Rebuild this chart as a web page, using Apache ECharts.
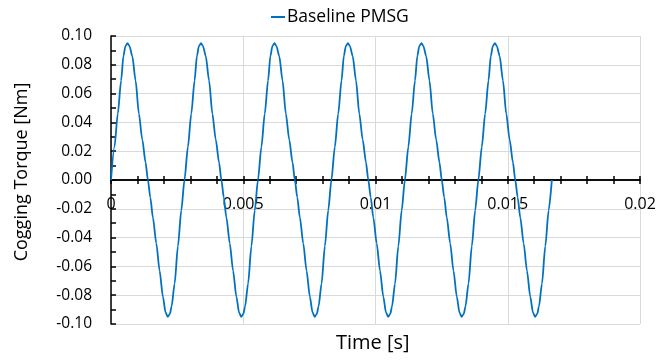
<!DOCTYPE html>
<html>
<head>
<meta charset="utf-8">
<script src="https://cdn.jsdelivr.net/npm/echarts@6/dist/echarts.min.js"></script>
<style>html,body{margin:0;padding:0;background:#fff}#c{width:670px;height:360px}</style>
</head>
<body>
<div id="c"></div>
<script>
var seriesName = 'Baseline PMSG';
var xTitle = 'Time [s]';
var yTitle = 'Cogging Torque [Nm]';
var xTicks = [0, 0.005, 0.01, 0.015, 0.02];
var yTicks = [-0.10, -0.08, -0.06, -0.04, -0.02, 0.00, 0.02, 0.04, 0.06, 0.08, 0.10];

var timeS = [
0.000000, 0.000130, 0.000257, 0.000382, 0.000470, 0.000545, 0.000625, 0.000700, 0.000805, 0.000930, 0.001055, 0.001183, 0.001308, 0.001395, 0.001486, 0.001584, 0.001713, 0.001837, 0.001962, 0.002064, 0.002145, 0.002225, 0.002290, 0.002405, 0.002530, 0.002658,
0.002778, 0.002908, 0.003035, 0.003160, 0.003248, 0.003323, 0.003403, 0.003478, 0.003583, 0.003708, 0.003833, 0.003961, 0.004086, 0.004173, 0.004264, 0.004362, 0.004491, 0.004615, 0.004740, 0.004842, 0.004923, 0.005003, 0.005068, 0.005183, 0.005308, 0.005436,
0.005556, 0.005686, 0.005813, 0.005938, 0.006026, 0.006101, 0.006181, 0.006256, 0.006361, 0.006486, 0.006611, 0.006739, 0.006864, 0.006951, 0.007042, 0.007140, 0.007269, 0.007393, 0.007518, 0.007620, 0.007701, 0.007781, 0.007846, 0.007961, 0.008086, 0.008214,
0.008333, 0.008463, 0.008590, 0.008715, 0.008803, 0.008878, 0.008958, 0.009033, 0.009138, 0.009263, 0.009388, 0.009516, 0.009641, 0.009728, 0.009819, 0.009917, 0.010046, 0.010170, 0.010295, 0.010397, 0.010478, 0.010558, 0.010623, 0.010738, 0.010863, 0.010991,
0.011111, 0.011241, 0.011368, 0.011493, 0.011581, 0.011656, 0.011736, 0.011811, 0.011916, 0.012041, 0.012166, 0.012294, 0.012419, 0.012506, 0.012597, 0.012695, 0.012824, 0.012948, 0.013073, 0.013175, 0.013256, 0.013336, 0.013401, 0.013516, 0.013641, 0.013769,
0.013889, 0.014019, 0.014146, 0.014271, 0.014359, 0.014434, 0.014514, 0.014589, 0.014694, 0.014819, 0.014944, 0.015072, 0.015197, 0.015284, 0.015375, 0.015473, 0.015602, 0.015726, 0.015851, 0.015953, 0.016034, 0.016114, 0.016179, 0.016294, 0.016419, 0.016547,
0.016667
];

var torqueNm = [
0.000, 0.023, 0.046, 0.069, 0.086, 0.093, 0.095, 0.093, 0.086, 0.069, 0.046, 0.028, 0.012, 0.000, -0.012, -0.026, -0.044, -0.063, -0.081, -0.092, -0.095, -0.093, -0.088, -0.072, -0.046, -0.021,
0.000, 0.023, 0.046, 0.069, 0.086, 0.093, 0.095, 0.093, 0.086, 0.069, 0.046, 0.028, 0.012, 0.000, -0.012, -0.026, -0.044, -0.063, -0.081, -0.092, -0.095, -0.093, -0.088, -0.072, -0.046, -0.021,
0.000, 0.023, 0.046, 0.069, 0.086, 0.093, 0.095, 0.093, 0.086, 0.069, 0.046, 0.028, 0.012, 0.000, -0.012, -0.026, -0.044, -0.063, -0.081, -0.092, -0.095, -0.093, -0.088, -0.072, -0.046, -0.021,
0.000, 0.023, 0.046, 0.069, 0.086, 0.093, 0.095, 0.093, 0.086, 0.069, 0.046, 0.028, 0.012, 0.000, -0.012, -0.026, -0.044, -0.063, -0.081, -0.092, -0.095, -0.093, -0.088, -0.072, -0.046, -0.021,
0.000, 0.023, 0.046, 0.069, 0.086, 0.093, 0.095, 0.093, 0.086, 0.069, 0.046, 0.028, 0.012, 0.000, -0.012, -0.026, -0.044, -0.063, -0.081, -0.092, -0.095, -0.093, -0.088, -0.072, -0.046, -0.021,
0.000, 0.023, 0.046, 0.069, 0.086, 0.093, 0.095, 0.093, 0.086, 0.069, 0.046, 0.028, 0.012, 0.000, -0.012, -0.026, -0.044, -0.063, -0.081, -0.092, -0.095, -0.093, -0.088, -0.072, -0.046, -0.021,
0.000
];

var points = timeS.map(function (t, i) { return [t, torqueNm[i]]; });
var FONT = 'Open Sans';

var chart = echarts.init(document.getElementById('c'), null, {renderer: 'canvas'});
var xBase = {
  type: 'value', min: xTicks[0], max: xTicks[xTicks.length - 1], interval: xTicks[1] - xTicks[0],
  position: 'bottom', offset: -144,
  axisLine: {onZero: false, lineStyle: {color: '#000', width: 1.5}}
};
chart.setOption({
  animation: false,
  textStyle: {fontFamily: FONT},
  grid: {left: 111, right: 30, top: 36, bottom: 36, containLabel: false},
  title: {
    text: xTitle, left: 331, top: 328,
    textStyle: {fontFamily: FONT, fontSize: 20, fontWeight: 'normal', color: '#000'}
  },
  graphic: [{
    type: 'text', x: 22, y: 172, rotation: Math.PI / 2,
    style: {text: yTitle, fontFamily: FONT, fontSize: 18, fill: '#000', align: 'center', verticalAlign: 'middle'}
  }],
  legend: {
    data: [seriesName], left: 265, top: 3, itemWidth: 14, itemHeight: 2, itemGap: 0,
    textStyle: {fontFamily: FONT, fontSize: 17.5, color: '#000', padding: [0, 0, 0, -3]}
  },
  xAxis: [
    Object.assign({}, xBase, {
      axisTick: {show: true, inside: false, length: 4, lineStyle: {color: '#000', width: 1.5}},
      minorTick: {show: true, splitNumber: 5, length: 4, lineStyle: {color: '#000', width: 1.5}},
      axisLabel: {
        fontFamily: FONT, fontSize: 16, color: '#000', margin: 16,
        formatter: function (v) { return v === 0 ? '0' : String(+v.toFixed(3)); }
      },
      splitLine: {show: true, lineStyle: {color: '#d9d9d9', width: 1}}
    }),
    Object.assign({}, xBase, {
      axisTick: {show: true, inside: true, length: 4, lineStyle: {color: '#000', width: 1.5}},
      minorTick: {show: true, splitNumber: 5, length: 4, lineStyle: {color: '#000', width: 1.5}},
      axisLabel: {show: false},
      splitLine: {show: false}
    })
  ],
  yAxis: {
    type: 'value', min: yTicks[0], max: yTicks[yTicks.length - 1], interval: 0.02,
    axisLine: {show: true, onZero: false, lineStyle: {color: '#000', width: 1.5}},
    axisTick: {show: true, inside: true, length: 5, lineStyle: {color: '#000', width: 1.5}},
    minorTick: {show: true, splitNumber: 2, length: 5, lineStyle: {color: '#000', width: 1.5}},
    axisLabel: {
      fontFamily: FONT, fontSize: 15.5, color: '#000', margin: 19,
      formatter: function (v) { return v.toFixed(2); }
    },
    splitLine: {show: true, lineStyle: {color: '#d9d9d9', width: 1}}
  },
  series: [{
    name: seriesName, type: 'line', data: points, xAxisIndex: 0,
    symbol: 'none', smooth: 0.25, smoothMonotone: 'x',
    lineStyle: {color: '#0070C0', width: 1.8},
    itemStyle: {color: '#0070C0'}
  }]
});
</script>
</body>
</html>
